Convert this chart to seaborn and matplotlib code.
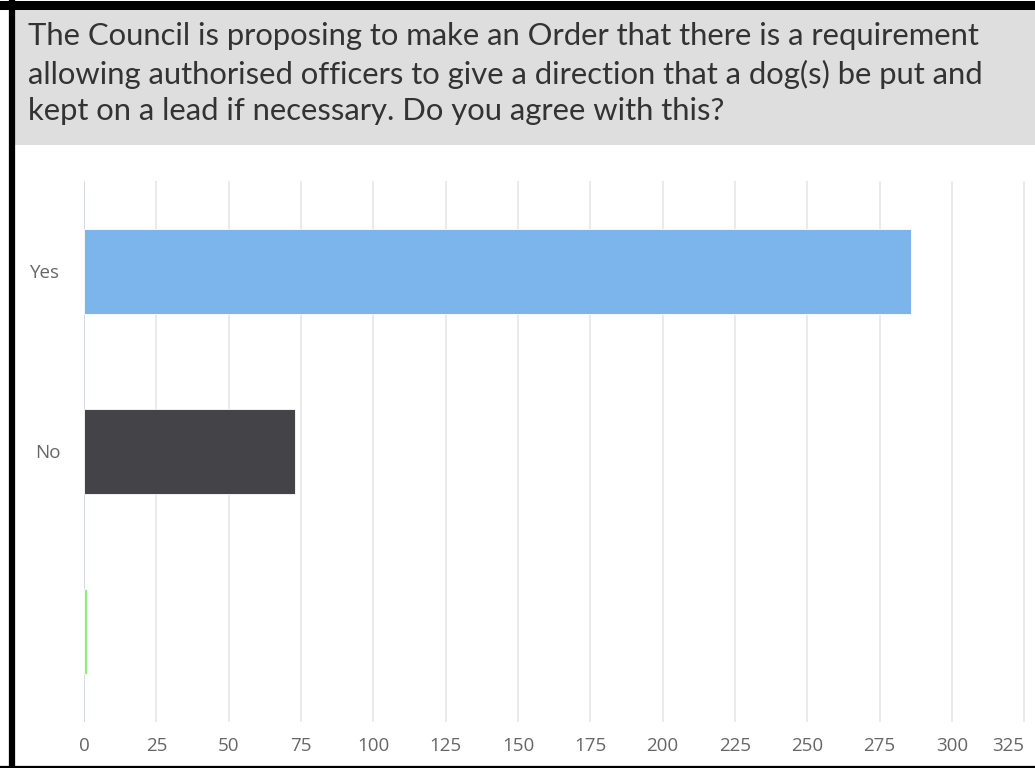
import matplotlib
matplotlib.use("Agg")
import matplotlib.pyplot as plt
import seaborn as sns
import pandas as pd
from matplotlib.patches import Rectangle
from matplotlib.lines import Line2D

# Survey answers and counts
answers = ["Yes", "No", ""]
counts = [286, 73, 1]
colors = ["#7cb5ec", "#434348", "#90ed7d"]
xticks = [0, 25, 50, 75, 100, 125, 150, 175, 200, 225, 250, 275, 300, 325]
title = ("The Council is proposing to make an Order that there is a requirement\n"
         "allowing authorised officers to give a direction that a dog(s) be put and\n"
         "kept on a lead if necessary. Do you agree with this?")

df = pd.DataFrame({"answer": answers, "count": counts})

sns.set_style("white")
plt.rcParams["font.family"] = ["Open Sans", "DejaVu Sans"]

W, H = 1035, 768
fig = plt.figure(figsize=(W / 100, H / 100), dpi=100)
fig.patch.set_facecolor("white")

# grey title band
fig.patches.append(Rectangle((15 / W, 1 - 145 / H), 1 - 15 / W, 135 / H,
                             transform=fig.transFigure, facecolor="#dedede",
                             edgecolor="none", zorder=0))
fig.text(28 / W, 1 - 22 / H, title, ha="left", va="top", fontsize=22.3,
         family=["Lato", "DejaVu Sans"], color="#333333", linespacing=1.39)

# black frame
fig.add_artist(Line2D([0, 1], [1 - 4.5 / H, 1 - 4.5 / H], transform=fig.transFigure,
                      color="black", lw=6.5))
fig.add_artist(Line2D([12 / W, 12 / W], [0, 1], transform=fig.transFigure,
                      color="black", lw=4.5))
fig.add_artist(Line2D([0, 1], [1.2 / H, 1.2 / H], transform=fig.transFigure,
                      color="black", lw=1.6))

ax = fig.add_axes([84 / W, 46 / H, (W - 84) / W, (722 - 181) / H])
sns.barplot(data=df, x="count", y="answer", hue="answer", palette=colors,
            orient="h", width=0.47, legend=False, ax=ax, saturation=1,
            edgecolor="white", linewidth=0.6, zorder=3)

ax.set_xlim(0, (W - 84) / 2.893)
ax.set_xticks(xticks)
ax.set_xticklabels([str(t) for t in xticks])
ax.xaxis.grid(True, color="#e6e6e6", lw=1.2, zorder=0)
ax.set_axisbelow(True)
for s in ax.spines.values():
    s.set_visible(False)
ax.axvline(0, color="#ccd6eb", lw=1.2, zorder=2)
ax.set_xlabel("")
ax.set_ylabel("")
ax.tick_params(axis="x", length=0, pad=11, labelsize=13.5, labelcolor="#666666")
ax.tick_params(axis="y", length=0, pad=17, labelsize=13.5, labelcolor="#666666")
ax.get_xticklabels()[-1].set_ha("right")

fig.savefig("out.png", dpi=100)
